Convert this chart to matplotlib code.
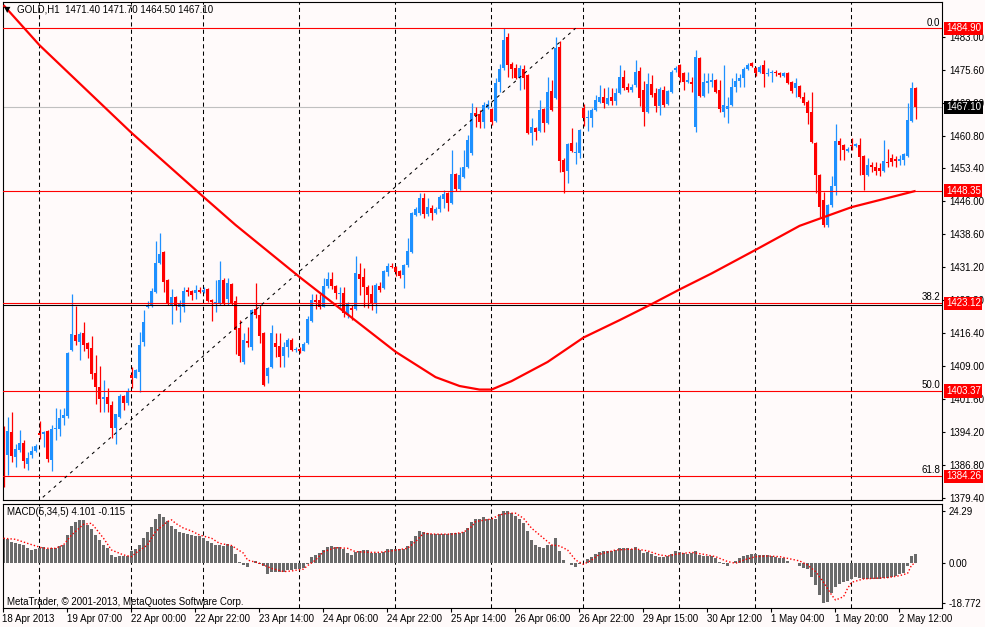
import matplotlib
matplotlib.use('Agg')
import matplotlib.pyplot as plt
from matplotlib.transforms import blended_transform_factory

plt.rcParams['font.family'] = ['Liberation Sans', 'DejaVu Sans']
plt.rcParams['font.size'] = 7

# GOLD H1 candles, 18 Apr 2013 -> 2 May 2013
opens = [1394.7, 1389.1, 1394.2, 1388.6, 1390.2, 1391.7, 1387.0, 1389.0, 1389.9, 1393.9,
         1393.7, 1394.4, 1387.9, 1394.9, 1394.9, 1397.3, 1397.7, 1412.5, 1415.9, 1414.4,
         1416.4, 1414.1, 1413.0, 1407.4, 1404.3, 1401.6, 1402.1, 1400.2, 1395.1, 1397.6,
         1402.3, 1400.7, 1406.9, 1406.2, 1407.6, 1414.4, 1422.3, 1422.5, 1425.6, 1432.2,
         1434.6, 1428.4, 1422.7, 1424.5, 1422.3, 1422.3, 1426.1, 1425.9, 1425.4, 1426.1,
         1425.6, 1426.3, 1423.9, 1423.1, 1423.0, 1428.4, 1424.1, 1427.5, 1423.6, 1417.5,
         1409.8, 1414.6, 1413.3, 1421.8, 1420.5, 1416.4, 1406.8, 1408.8, 1414.1, 1413.5,
         1411.3, 1413.3, 1414.9, 1412.6, 1412.9, 1412.3, 1414.1, 1419.1, 1423.9, 1423.9,
         1422.3, 1427.0, 1428.6, 1427.0, 1425.2, 1425.4, 1420.5, 1422.0, 1421.8, 1429.7,
         1429.0, 1426.8, 1425.2, 1423.1, 1427.0, 1426.5, 1430.1, 1431.5, 1431.2, 1430.3,
         1429.4, 1431.7, 1434.6, 1442.9, 1443.4, 1446.8, 1443.1, 1444.5, 1443.4, 1444.3,
         1446.5, 1447.9, 1445.6, 1452.2, 1448.8, 1451.5, 1453.7, 1456.8, 1465.8, 1465.6,
         1463.8, 1467.0, 1466.8, 1464.0, 1472.8, 1476.0, 1482.9, 1476.9, 1476.0, 1473.7,
         1475.7, 1474.4, 1461.4, 1462.5, 1461.8, 1466.8, 1463.6, 1470.8, 1469.2, 1480.7,
         1455.3, 1452.8, 1459.1, 1456.9, 1456.9, 1467.0, 1464.7, 1464.7, 1466.5, 1468.3,
         1469.4, 1467.9, 1469.4, 1468.5, 1470.3, 1474.0, 1471.7, 1471.0, 1472.1, 1475.3,
         1471.0, 1466.1, 1472.4, 1470.3, 1467.4, 1471.0, 1467.9, 1470.6, 1475.5, 1476.6,
         1474.9, 1472.8, 1472.8, 1462.7, 1478.2, 1469.7, 1472.6, 1472.8, 1473.3, 1471.0,
         1466.1, 1466.8, 1467.6, 1471.7, 1473.0, 1473.7, 1475.7, 1477.1, 1476.0, 1475.1,
         1476.6, 1474.6, 1474.9, 1475.1, 1474.9, 1474.2, 1474.9, 1472.8, 1471.5, 1471.9,
         1469.4, 1468.3, 1466.1, 1459.1, 1452.0, 1446.3, 1440.7, 1445.2, 1449.5, 1459.6,
         1458.7, 1457.3, 1458.7, 1458.4, 1458.7, 1456.2, 1452.0, 1454.2, 1453.7, 1453.5,
         1452.8, 1454.9, 1455.7, 1455.5, 1455.1, 1455.3, 1456.2, 1464.0, 1471.4]
highs = [1395.4, 1397.5, 1398.6, 1391.5, 1394.7, 1392.4, 1389.6, 1391.1, 1391.5, 1396.6,
         1394.4, 1394.7, 1395.8, 1399.6, 1399.4, 1399.6, 1412.2, 1425.1, 1422.5, 1416.6,
         1418.9, 1414.4, 1415.7, 1411.5, 1409.1, 1405.9, 1404.1, 1401.1, 1398.3, 1402.8,
         1402.5, 1404.1, 1408.7, 1408.4, 1416.6, 1421.6, 1423.6, 1426.6, 1437.1, 1438.9,
         1434.8, 1428.6, 1426.3, 1424.7, 1423.9, 1426.8, 1426.8, 1426.1, 1427.2, 1426.8,
         1426.8, 1426.6, 1424.1, 1428.4, 1432.6, 1428.8, 1428.8, 1427.7, 1424.7, 1419.4,
         1416.4, 1417.8, 1421.8, 1427.7, 1422.7, 1416.6, 1408.8, 1418.2, 1416.4, 1416.4,
         1414.4, 1415.3, 1415.3, 1413.3, 1413.3, 1414.4, 1420.3, 1425.2, 1425.2, 1425.2,
         1428.8, 1430.1, 1430.1, 1427.2, 1426.8, 1426.8, 1423.4, 1422.7, 1433.7, 1432.1,
         1431.0, 1427.2, 1427.2, 1427.7, 1427.9, 1430.6, 1432.1, 1432.1, 1431.5, 1430.6,
         1431.9, 1437.8, 1443.6, 1444.7, 1447.9, 1447.9, 1446.8, 1445.2, 1444.7, 1447.4,
         1448.6, 1448.1, 1457.5, 1452.4, 1453.8, 1457.5, 1460.9, 1468.1, 1467.2, 1466.5,
         1468.3, 1468.8, 1467.0, 1473.7, 1476.9, 1484.9, 1483.8, 1477.3, 1476.9, 1476.6,
         1476.6, 1474.6, 1464.7, 1462.7, 1468.8, 1467.0, 1474.0, 1473.3, 1482.9, 1482.0,
         1455.7, 1459.1, 1462.5, 1459.3, 1462.3, 1467.9, 1466.5, 1467.0, 1469.9, 1472.1,
         1471.5, 1471.7, 1471.5, 1471.5, 1476.6, 1475.5, 1472.6, 1472.4, 1477.8, 1476.2,
         1473.0, 1474.9, 1474.4, 1471.5, 1471.7, 1471.9, 1471.0, 1475.5, 1476.4, 1476.9,
         1475.1, 1475.1, 1473.9, 1480.0, 1478.4, 1474.9, 1474.9, 1474.9, 1473.5, 1473.3,
         1476.6, 1469.4, 1473.7, 1474.9, 1474.6, 1476.2, 1477.1, 1477.3, 1476.2, 1476.6,
         1477.8, 1476.0, 1475.5, 1475.5, 1475.1, 1475.1, 1475.1, 1473.0, 1473.7, 1472.1,
         1470.6, 1468.8, 1470.6, 1459.3, 1452.2, 1448.1, 1445.4, 1451.7, 1463.4, 1460.3,
         1458.9, 1458.2, 1460.3, 1459.1, 1460.3, 1456.4, 1455.7, 1454.9, 1454.9, 1454.6,
         1459.8, 1457.8, 1456.6, 1456.2, 1456.4, 1456.9, 1468.1, 1472.8, 1471.7]
lows = [1381.7, 1384.6, 1387.5, 1386.3, 1389.6, 1386.1, 1385.7, 1388.4, 1389.6, 1392.7,
        1390.9, 1387.5, 1385.4, 1392.4, 1393.2, 1395.8, 1397.3, 1412.3, 1413.7, 1410.4,
        1412.3, 1410.8, 1406.1, 1400.5, 1398.6, 1398.6, 1398.6, 1392.9, 1391.5, 1397.4,
        1399.0, 1400.2, 1404.1, 1406.2, 1403.2, 1413.5, 1422.0, 1422.3, 1425.4, 1431.9,
        1425.6, 1422.8, 1418.5, 1421.6, 1418.9, 1421.2, 1424.7, 1423.9, 1424.1, 1425.4,
        1425.4, 1423.4, 1419.1, 1421.2, 1422.8, 1422.8, 1422.8, 1422.8, 1411.6, 1409.9,
        1409.4, 1413.3, 1412.6, 1419.8, 1414.1, 1404.5, 1405.2, 1408.6, 1411.0, 1408.8,
        1408.8, 1411.0, 1412.3, 1412.1, 1411.9, 1412.3, 1413.9, 1418.9, 1421.8, 1421.8,
        1422.3, 1426.5, 1426.3, 1424.1, 1422.3, 1420.0, 1419.8, 1419.4, 1421.6, 1424.9,
        1422.3, 1422.0, 1421.6, 1420.9, 1425.6, 1426.3, 1429.2, 1431.0, 1429.2, 1428.8,
        1426.5, 1431.2, 1434.4, 1442.7, 1442.9, 1442.3, 1442.7, 1441.8, 1443.1, 1443.6,
        1444.5, 1443.8, 1445.4, 1448.3, 1448.6, 1451.3, 1453.5, 1456.4, 1462.7, 1462.5,
        1462.5, 1466.8, 1463.1, 1463.8, 1470.6, 1475.5, 1473.9, 1473.7, 1473.5, 1471.0,
        1471.2, 1461.1, 1458.7, 1459.8, 1461.6, 1461.6, 1463.4, 1466.3, 1469.0, 1452.6,
        1447.9, 1450.1, 1457.1, 1454.4, 1455.7, 1462.9, 1461.8, 1462.7, 1466.3, 1468.1,
        1467.0, 1467.6, 1467.6, 1467.6, 1470.1, 1471.0, 1470.6, 1470.6, 1471.7, 1467.4,
        1462.9, 1465.9, 1469.4, 1466.1, 1465.4, 1467.2, 1467.6, 1470.3, 1475.1, 1472.8,
        1471.0, 1472.6, 1470.6, 1461.6, 1469.4, 1469.4, 1470.3, 1471.7, 1470.3, 1466.1,
        1465.0, 1463.6, 1467.4, 1470.6, 1471.7, 1471.7, 1475.5, 1476.2, 1474.2, 1474.9,
        1471.7, 1474.2, 1472.8, 1474.2, 1474.0, 1474.0, 1472.4, 1470.3, 1469.4, 1469.2,
        1467.6, 1463.4, 1459.1, 1447.9, 1442.5, 1440.2, 1440.2, 1444.7, 1447.4, 1455.3,
        1455.3, 1457.1, 1457.5, 1458.2, 1452.0, 1448.6, 1451.7, 1452.6, 1452.0, 1451.7,
        1452.6, 1453.7, 1453.9, 1453.7, 1454.2, 1454.2, 1455.9, 1463.8, 1464.5]
closes = [1389.1, 1394.4, 1388.8, 1390.4, 1391.7, 1387.7, 1388.4, 1389.8, 1391.0, 1393.4,
          1394.2, 1388.2, 1394.9, 1395.1, 1397.3, 1398.0, 1412.0, 1416.1, 1414.6, 1416.1,
          1413.7, 1412.8, 1407.1, 1404.3, 1401.6, 1402.1, 1400.5, 1395.1, 1398.1, 1402.3,
          1400.7, 1403.2, 1406.2, 1408.2, 1413.7, 1418.9, 1422.7, 1425.9, 1432.2, 1434.2,
          1427.9, 1423.0, 1424.5, 1422.7, 1423.1, 1425.9, 1425.6, 1425.0, 1426.1, 1425.6,
          1426.1, 1423.6, 1423.4, 1423.4, 1428.4, 1423.0, 1427.7, 1423.0, 1417.0, 1411.2,
          1414.9, 1414.2, 1421.6, 1420.5, 1415.7, 1404.8, 1408.6, 1416.4, 1413.3, 1411.0,
          1413.3, 1414.9, 1412.6, 1412.9, 1412.3, 1413.9, 1419.6, 1423.9, 1423.4, 1422.3,
          1427.0, 1428.6, 1427.0, 1425.4, 1425.4, 1420.9, 1423.0, 1421.6, 1429.9, 1428.6,
          1426.8, 1424.9, 1423.1, 1427.2, 1426.1, 1430.3, 1431.5, 1431.2, 1430.1, 1429.2,
          1431.7, 1434.8, 1443.4, 1444.3, 1446.8, 1443.1, 1444.7, 1443.4, 1444.3, 1447.0,
          1447.6, 1445.6, 1452.2, 1448.8, 1452.0, 1453.7, 1459.8, 1465.8, 1465.2, 1463.8,
          1467.7, 1467.9, 1463.8, 1472.6, 1475.7, 1482.3, 1476.6, 1475.7, 1473.7, 1476.0,
          1473.7, 1461.4, 1462.7, 1461.6, 1466.5, 1463.6, 1470.6, 1466.5, 1480.5, 1455.1,
          1452.6, 1458.9, 1457.3, 1457.1, 1462.0, 1464.7, 1465.0, 1466.5, 1468.8, 1469.4,
          1468.1, 1469.2, 1468.5, 1470.3, 1474.0, 1471.5, 1471.0, 1471.7, 1475.1, 1469.2,
          1466.1, 1472.4, 1469.9, 1467.4, 1471.3, 1467.6, 1470.8, 1475.1, 1476.0, 1473.9,
          1472.8, 1473.3, 1472.4, 1478.4, 1469.7, 1472.8, 1473.0, 1473.3, 1470.6, 1466.8,
          1467.6, 1467.4, 1471.7, 1473.0, 1473.7, 1475.7, 1476.6, 1476.4, 1474.9, 1476.2,
          1474.6, 1474.9, 1475.1, 1474.9, 1474.4, 1474.9, 1472.6, 1470.8, 1472.6, 1469.4,
          1468.1, 1465.9, 1459.3, 1452.0, 1444.7, 1440.7, 1445.2, 1449.5, 1459.6, 1458.7,
          1457.5, 1457.8, 1458.4, 1458.9, 1456.0, 1452.0, 1454.2, 1453.7, 1452.8, 1452.8,
          1455.1, 1454.6, 1454.9, 1455.1, 1455.5, 1456.6, 1464.3, 1471.5, 1467.1]

# moving average, read at a few bars
ma_idx = [0, 9, 32, 50, 58, 74, 83, 98, 108, 114, 119, 122, 127, 136, 145, 154, 162, 169, 177, 188, 199, 212, 228]
ma_val = [1490.1, 1481.1, 1461.4, 1447.0, 1440.7, 1429.0, 1422.7, 1412.2, 1406.5, 1404.5, 1403.7, 1403.7,
          1405.6, 1409.9, 1415.4, 1419.3, 1422.9, 1426.2, 1429.8, 1435.1, 1440.5, 1444.7, 1448.35]

# MACD(5,34,5) histogram and signal
macd_hist = [11.5, 11.1, 9.7, 9.2, 8.7, 8.1, 6.9, 6.1, 6.4, 6.9,
             7.3, 6.4, 6.9, 6.9, 7.6, 8.4, 13.1, 17.3, 18.9, 20.0,
             19.7, 17.8, 15.8, 13.1, 10.8, 8.4, 6.9, 3.7, 2.5, 3.0,
             3.3, 3.3, 5.3, 6.6, 8.4, 11.5, 14.4, 16.5, 20.6, 22.5,
             21.4, 19.3, 17.3, 15.8, 14.2, 13.9, 13.4, 13.1, 12.3, 12.3,
             11.5, 10.3, 9.2, 8.4, 8.4, 7.6, 8.7, 7.6, 4.1, 0.2,
             -0.9, -2.0, -0.2, 0.9, -0.6, -1.7, -5.3, -4.4, -4.4, -4.4,
             -4.4, -3.3, -3.3, -2.8, -2.8, -2.5, -0.6, 2.5, 3.4, 4.5,
             6.1, 7.2, 8.0, 7.2, 7.2, 6.6, 4.5, 3.7, 5.0, 5.6,
             5.9, 5.9, 4.5, 4.5, 4.5, 5.0, 6.6, 6.6, 6.6, 6.6,
             6.6, 7.6, 10.3, 12.6, 14.7, 14.4, 13.9, 13.4, 13.4, 13.4,
             13.4, 13.4, 13.9, 13.9, 13.9, 14.4, 16.2, 18.9, 20.6, 20.6,
             21.4, 20.6, 20.6, 20.6, 22.5, 24.29, 24.2, 23.1, 22.0, 20.4,
             18.4, 14.8, 10.6, 8.3, 7.5, 7.0, 8.3, 8.3, 11.7, 5.5,
             1.2, -0.3, -1.1, -1.9, -0.8, -0.3, 1.7, 2.8, 3.9, 4.8,
             5.5, 5.5, 5.5, 5.9, 6.7, 6.7, 6.7, 6.4, 7.2, 5.9,
             4.4, 4.8, 3.9, 3.3, 2.8, 2.8, 3.1, 3.9, 5.5, 4.8,
             4.4, 4.1, 4.4, 5.5, 3.6, 3.3, 3.1, 3.1, 2.3, 0.5,
             -0.6, -1.4, -0.3, 0.8, 2.0, 3.1, 3.6, 3.9, 3.9, 3.6,
             3.6, 3.6, 3.1, 2.8, 2.3, 2.0, 0.8, -0.2, 0.0, -1.4,
             -2.3, -3.0, -6.6, -10.5, -15.1, -18.772, -18.3, -14.4, -11.2, -10.1,
             -9.2, -8.6, -7.6, -6.6, -7.0, -7.6, -7.6, -7.6, -7.6, -7.6,
             -7.0, -7.0, -6.6, -6.1, -5.5, -5.0, -1.4, 3.3, 4.101]
sig_idx = [0, 3, 6, 10, 13, 15, 17, 20, 22, 23, 25, 27, 30, 32, 33, 36, 38, 41, 42, 43,
           45, 47, 49, 52, 54, 57, 60, 61, 64, 67, 70, 72, 75, 76, 78, 80, 83, 86, 88, 92,
           94, 97, 101, 103, 105, 108, 112, 115, 117, 118, 122, 124, 126, 128, 130, 132, 135, 137, 139, 141,
           143, 145, 147, 149, 153, 158, 161, 164, 166, 168, 172, 175, 178, 181, 183, 185, 188, 191, 194, 197,
           199, 201, 203, 205, 207, 208, 210, 211, 212, 215, 218, 221, 224, 226, 227, 228]
sig_val = [11.4, 10.9, 9.0, 6.7, 6.7, 8.3, 12.9, 17.9, 18.4, 16.1, 11.4, 5.9, 3.6, 2.8, 4.4, 8.3, 14.5, 19.2, 20.0, 18.4,
           16.1, 14.8, 12.9, 11.4, 9.0, 8.0, 4.4, 1.2, -0.3, -2.7, -4.2, -3.9, -3.0, -1.4, 1.2, 5.1, 7.0, 6.7, 5.1, 4.8,
           4.8, 5.5, 6.7, 9.8, 13.7, 13.3, 13.3, 14.2, 16.8, 19.2, 20.4, 22.3, 23.1, 23.1, 20.7, 16.1, 11.4, 8.3, 7.8, 5.9,
           1.2, -0.8, 1.2, 3.9, 5.9, 6.4, 5.5, 3.6, 3.1, 3.9, 4.8, 3.9, 2.8, 0.5, -0.3, 1.2, 2.8, 3.1, 2.8, 1.6,
           0.8, -1.1, -4.2, -9.2, -15.1, -17.5, -15.9, -12.0, -9.2, -7.6, -7.3, -7.0, -6.1, -5.0, -1.1, -0.115]

# objects on the chart
fib_levels = ['0.0', '38.2', '50.0', '61.8']
fib_prices = [1484.90, 1423.12, 1403.37, 1384.26]
fib_line_idx = [-63, 143]
fib_line_price = [1321.84, 1484.90]
ma_level = 1448.35
black_level = 1422.75
bid = 1467.10

day_starts = [9, 32, 50, 74, 98, 122, 145, 169, 188, 212]
time_idx = [0, 16, 32, 48, 64, 80, 96, 112, 128, 144, 160, 176, 192, 208, 224]
time_labels = ['18 Apr 2013', '19 Apr 07:00', '22 Apr 00:00', '22 Apr 22:00', '23 Apr 14:00',
               '24 Apr 06:00', '24 Apr 22:00', '25 Apr 14:00', '26 Apr 06:00', '26 Apr 22:00',
               '29 Apr 15:00', '30 Apr 12:00', '1 May 04:00', '1 May 20:00', '2 May 12:00']
price_ticks = [1483.00, 1475.60, 1468.20, 1460.80, 1453.40, 1446.00, 1438.60, 1431.20,
               1423.80, 1416.40, 1409.00, 1401.60, 1394.20, 1386.80, 1379.40]
macd_ticks = [24.29, 0.00, -18.772]
macd_tick_labels = ['24.29', '0.00', '-18.772']

BG = '#fffafa'
BULL = '#1e90ff'
BEAR = '#ff0000'

W, H = 985, 627
fig = plt.figure(figsize=(W / 100, H / 100), dpi=100, facecolor=BG)


def box(x0, y0, x1, y1):
    return [x0 / W, 1 - y1 / H, (x1 - x0) / W, (y1 - y0) / H]


ax = fig.add_axes(box(2.5, 2, 942, 500), facecolor=BG)
ax2 = fig.add_axes(box(2.5, 504, 942, 608), facecolor=BG)

n = len(closes)
idx = list(range(n))

for a in (ax, ax2):
    for d in day_starts:
        a.axvline(d - 0.25, color='black', lw=0.75, ls=(0, (4, 3)), zorder=1)
    for s in a.spines.values():
        s.set_linewidth(0.8)
        s.set_color('black')
    a.set_xlim(-0.25, 234.6)
    a.yaxis.tick_right()

# candles
colors = [BULL if c >= o else BEAR for o, c in zip(opens, closes)]
ax.vlines(idx, lows, highs, colors=colors, lw=0.9, zorder=2)
bottoms = [min(o, c) for o, c in zip(opens, closes)]
heights = [max(abs(c - o), 0.25) for o, c in zip(opens, closes)]
ax.bar(idx, heights, bottom=bottoms, width=0.75, color=colors, lw=0, zorder=2)

# moving average
ax.plot(ma_idx, ma_val, color='red', lw=1.6, zorder=4, solid_capstyle='butt')

# horizontal lines
for p in fib_prices:
    ax.axhline(p, color='red', lw=0.8, zorder=3)
ax.axhline(ma_level, color='red', lw=0.8, zorder=3)
ax.axhline(black_level, color='black', lw=0.8, zorder=3)
ax.axhline(bid, color='#c0c0c0', lw=0.8, zorder=1.5)

# fibo trend line
ax.plot(fib_line_idx, fib_line_price, color='black', lw=0.75, ls=(0, (3, 4)), zorder=3)

tr = blended_transform_factory(ax.transAxes, ax.transData)
for lev, p in zip(fib_levels, fib_prices):
    ax.text(0.998, p + 0.15, lev, transform=tr, ha='right', va='bottom', fontsize=7, zorder=5)

for p in fib_prices + [ma_level]:
    ax.text(1.0043, p, f'{p:.2f}', transform=tr, ha='left', va='center', color='white',
            fontsize=7, clip_on=False, zorder=10,
            bbox=dict(boxstyle='square,pad=0.16', fc='red', ec='none'))
ax.text(1.0043, bid, f'{bid:.2f}', transform=tr, ha='left', va='center', color='white',
        fontsize=7, clip_on=False, zorder=10,
        bbox=dict(boxstyle='square,pad=0.16', fc='black', ec='none'))

ax.set_ylim(1378.88, 1490.81)
ax.set_yticks(price_ticks)
ax.set_yticklabels([f'{t:.2f}' for t in price_ticks])
ax.tick_params(axis='y', length=2.5, width=0.8, pad=2.5, labelsize=7)
ax.tick_params(axis='x', bottom=False, labelbottom=False)

# MACD panel
ax2.bar(idx, macd_hist, width=0.75, color='#6a6a6a', lw=0, zorder=2)
ax2.plot(sig_idx, sig_val, color='red', lw=1, ls=(0, (1, 1.5)), zorder=3)
ax2.set_ylim(-21.2, 27.4)
ax2.set_yticks(macd_ticks)
ax2.set_yticklabels(macd_tick_labels)
ax2.tick_params(axis='y', length=2.5, width=0.8, pad=2.5, labelsize=7)
ax2.set_xticks([i - 0.25 for i in time_idx])
ax2.set_xticklabels(time_labels)
ax2.tick_params(axis='x', length=3, width=0.8, pad=1.5, labelsize=7)
for t in ax2.get_xticklabels():
    t.set_ha('left')

# captions
fig.text(4 / W, 1 - 9.5 / H, '\u25bc', fontsize=6, family='DejaVu Sans', va='center')
fig.text(17 / W, 1 - 10 / H,
         f'GOLD,H1  {opens[-1]:.2f} {highs[-1]:.2f} {lows[-1]:.2f} {closes[-1]:.2f}',
         va='center', fontsize=7)
fig.text(7 / W, 1 - 512 / H, f'MACD(5,34,5) {macd_hist[-1]:.3f} {sig_val[-1]:.3f}',
         va='center', fontsize=7)
fig.text(7 / W, 1 - 602 / H, 'MetaTrader, \u00a9 2001-2013, MetaQuotes Software Corp.',
         va='center', fontsize=7)

fig.savefig('out.png', dpi=100, facecolor=BG)
